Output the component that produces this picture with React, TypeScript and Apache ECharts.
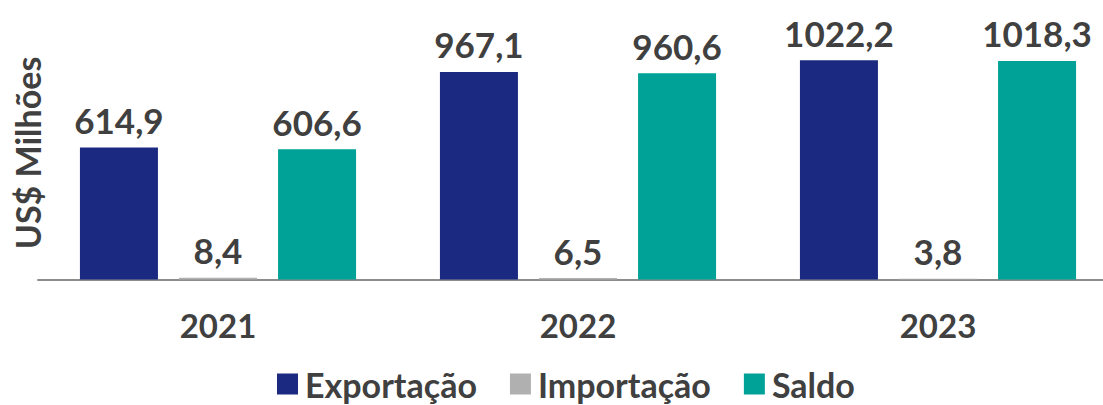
import React, { useEffect, useRef } from "react";
import * as echarts from "echarts";

const years = ["2021", "2022", "2023"];
const exportacao = [614.9, 967.1, 1022.2];
const importacao = [8.4, 6.5, 3.8];
const saldo = [606.6, 960.6, 1018.3];
const seriesNames = ["Exportação", "Importação", "Saldo"];
const yAxisTitle = "US$ Milhões";

const colors = ["#1b2a80", "#b0b0b0", "#00a298"];
const textColor = "#404040";
const FONT = "Lato";

export default function App() {
  const ref = useRef<HTMLDivElement>(null);
  useEffect(() => {
    if (!ref.current) return;
    const chart = echarts.init(ref.current, undefined, { renderer: "svg" });
    const fmt = (p: any) => Number(p.value).toFixed(1).replace(".", ",");
    const label = {
      show: true,
      position: "top",
      distance: 10,
      formatter: fmt,
      color: textColor,
      fontFamily: FONT,
      fontWeight: "bold",
      fontSize: 35,
    };
    const datas = [exportacao, importacao, saldo];
    chart.setOption({
      animation: false,
      color: colors,
      grid: { left: 38, right: 0, top: 22, bottom: 125.5, containLabel: false },
      legend: {
        data: seriesNames,
        left: 272,
        top: 362,
        icon: "rect",
        itemWidth: 21,
        itemHeight: 21,
        itemGap: 33,
        textStyle: {
          color: textColor,
          fontFamily: FONT,
          fontWeight: "bold",
          fontSize: 34,
          lineHeight: 34,
          padding: [0, 0, 0, 2],
        },
      },
      xAxis: {
        type: "category",
        data: years,
        axisLine: { show: true, lineStyle: { color: "#8c8c8c", width: 2 } },
        axisTick: { show: false },
        axisLabel: {
          margin: 29,
          color: textColor,
          fontFamily: FONT,
          fontWeight: "bold",
          fontSize: 33,
        },
      },
      yAxis: {
        type: "value",
        min: 0,
        max: 1200,
        show: false,
        splitLine: { show: false },
      },
      graphic: [
        {
          type: "text",
          x: 27,
          y: 153,
          rotation: Math.PI / 2,
          style: {
            text: yAxisTitle,
            fill: textColor,
            font: `bold 34px ${FONT}`,
            align: "center",
            verticalAlign: "middle",
          },
        },
      ],
      series: seriesNames.map((name, i) => ({
        name,
        type: "bar",
        data: datas[i],
        barWidth: 78,
        barGap: "27%",
        itemStyle: { color: colors[i] },
        label,
      })),
    });
    return () => chart.dispose();
  }, []);
  return (
    <div style={{ position: "fixed", left: 0, top: 0, width: 1103, height: 405, overflow: "hidden", background: "#fff" }}>
      <div ref={ref} style={{ width: 1118, height: 405 }} />
    </div>
  );
}
